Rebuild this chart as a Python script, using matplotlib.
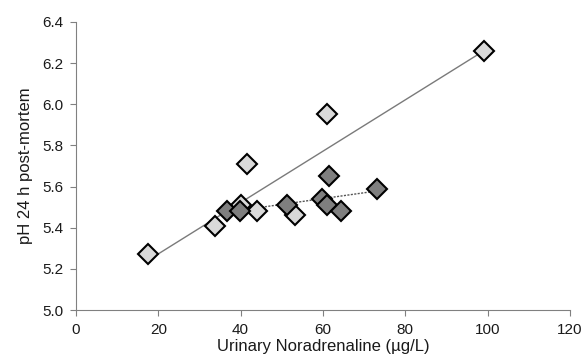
import numpy as np
import matplotlib.pyplot as plt
from matplotlib.ticker import FormatStrFormatter

plt.rcParams['font.family'] = ['Liberation Sans', 'DejaVu Sans']

# light group
light_x = [17.5, 33.8, 40.0, 41.5, 44.0, 53.2, 60.9, 99.1]
light_y = [5.27, 5.41, 5.51, 5.71, 5.48, 5.46, 5.95, 6.26]

# dark group
dark_x = [36.7, 39.8, 51.3, 59.8, 61.0, 61.5, 64.4, 73.1]
dark_y = [5.48, 5.48, 5.51, 5.54, 5.51, 5.65, 5.48, 5.59]

fig = plt.figure(figsize=(5.84, 3.58), dpi=100)
ax = fig.add_axes([0.130, 0.134, 0.846, 0.805])

#Linear trendlines
p_light = np.polyfit(light_x, light_y, 1)
xl = np.array([min(light_x), max(light_x)])
ax.plot(xl, np.polyval(p_light, xl), color='#7a7a7a', lw=1.0, zorder=1)

p_dark = np.polyfit(dark_x, dark_y, 1)
xd = np.array([min(dark_x), max(dark_x)])
ax.plot(xd, np.polyval(p_dark, xd), color='#555555', lw=1.0, ls=(0, (1.5, 1)), zorder=1)

ax.plot(light_x, light_y, 'D', ms=10.5, mfc='#d9d9d9', mec='black', mew=1.5, ls='none', zorder=3)
ax.plot(dark_x, dark_y, 'D', ms=10.5, mfc='#7f7f7f', mec='black', mew=1.5, ls='none', zorder=3)

ax.set_xlim(0, 120)
ax.set_ylim(5.0, 6.4)
ax.set_xticks(np.arange(0, 121, 20))
ax.set_yticks(np.arange(5.0, 6.41, 0.2))
ax.yaxis.set_major_formatter(FormatStrFormatter('%.1f'))

for s in ['top', 'right']:
    ax.spines[s].set_visible(False)
for s in ['left', 'bottom']:
    ax.spines[s].set_color('#808080')
ax.tick_params(direction='out', length=4, color='#808080', labelsize=11, labelcolor='#1a1a1a', pad=5)

ax.set_xlabel('Urinary Noradrenaline (µg/L)', fontsize=12, color='#1a1a1a', labelpad=2)
ax.set_ylabel('pH 24 h post-mortem', fontsize=12, color='#1a1a1a', labelpad=7)

fig.savefig('out.png', dpi=100)
